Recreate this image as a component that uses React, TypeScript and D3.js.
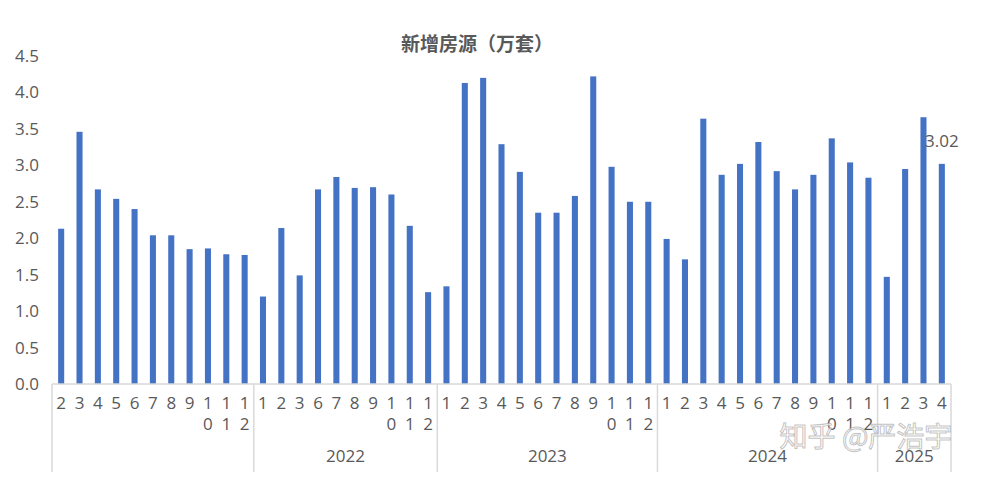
import React from "react";
import * as d3 from "d3";

const years = ["2021", "2022", "2023", "2024", "2025"];
const yearLabels = ["", "2022", "2023", "2024", "2025"];
const months2021 = [2, 3, 4, 5, 6, 7, 8, 9, 10, 11, 12];
const months2022 = [1, 2, 3, 6, 7, 8, 9, 10, 11, 12];
const months2023 = [1, 2, 3, 4, 5, 6, 7, 8, 9, 10, 11, 12];
const months2024 = [1, 2, 3, 4, 5, 6, 7, 8, 9, 10, 11, 12];
const months2025 = [1, 2, 3, 4];

const values2021 = [2.13, 3.46, 2.67, 2.54, 2.4, 2.04, 2.04, 1.85, 1.86, 1.78, 1.77];
const values2022 = [1.2, 2.14, 1.49, 2.67, 2.84, 2.69, 2.7, 2.6, 2.17, 1.26];
const values2023 = [1.34, 4.13, 4.2, 3.29, 2.91, 2.35, 2.35, 2.58, 4.22, 2.98, 2.5, 2.5];
const values2024 = [1.99, 1.71, 3.64, 2.87, 3.02, 3.32, 2.92, 2.67, 2.87, 3.37, 3.04, 2.83];
const values2025 = [1.47, 2.95, 3.66, 3.02];

const yTicks = [0, 0.5, 1, 1.5, 2, 2.5, 3, 3.5, 4, 4.5];
const title = "新增房源（万套）";
const lastLabel = "3.02";
const watermark = "知乎 @严浩宇";

const monthsByYear = [months2021, months2022, months2023, months2024, months2025];
const valuesByYear = [values2021, values2022, values2023, values2024, values2025];

type Item = { key: string; year: string; month: number; value: number };
const data: Item[] = [];
monthsByYear.forEach((ms, yi) =>
  ms.forEach((m, i) =>
    data.push({ key: `${years[yi]}-${m}`, year: years[yi], month: m, value: valuesByYear[yi][i] })
  )
);

const W = 981;
const H = 477;
const left = 52;
const right = 951;
const y0 = 384;
const yTop = 56;

const textColor = "#595959";
const gridColor = "#d9d9d9";
const barColor = "#4472C4";
const font = "'Open Sans', 'Noto Sans CJK SC', sans-serif";
const fs = 17;

export default function App() {
  const x = d3
    .scaleBand<string>()
    .domain(data.map((d) => d.key))
    .range([left, right])
    .paddingInner(0.67)
    .paddingOuter(0.335);
  const step = x.step();
  const y = d3.scaleLinear().domain([0, 4.5]).range([y0, yTop]);

  const bounds: { year: string; label: string; x0: number; x1: number }[] = [];
  let idx = 0;
  monthsByYear.forEach((ms, yi) => {
    const x0 = left + idx * step;
    idx += ms.length;
    const x1 = left + idx * step;
    bounds.push({ year: years[yi], label: yearLabels[yi], x0, x1 });
  });

  const last = data[data.length - 1];

  return (
    <svg
      width={W}
      height={H}
      style={{ position: "fixed", left: 0, top: 0, background: "#fff" }}
      fontFamily={font}
    >
      <rect x={0} y={0} width={W} height={H} fill="#fff" />
      <text
        x={477}
        y={51}
        textAnchor="middle"
        fontSize={19}
        fontWeight="bold"
        fill={textColor}
        fontFamily="'Noto Sans CJK SC', sans-serif"
      >
        {title}
      </text>

      {yTicks.map((t) => (
        <text
          key={t}
          x={39}
          y={y(t)}
          dy="0.35em"
          textAnchor="end"
          fontSize={fs}
          fill={textColor}
        >
          {t.toFixed(1)}
        </text>
      ))}

      {data.map((d) => (
        <rect
          key={d.key}
          x={x(d.key)}
          y={y(d.value)}
          width={x.bandwidth()}
          height={y0 - y(d.value)}
          fill={barColor}
        />
      ))}

      <text
        x={(x(last.key) ?? 0) + x.bandwidth() / 2}
        y={y(last.value) - 17}
        textAnchor="middle"
        fontSize={fs}
        fill={textColor}
      >
        {lastLabel}
      </text>

      <line x1={left} x2={right} y1={y0} y2={y0} stroke={gridColor} strokeWidth={1.5} />
      {bounds.map((b, i) => (
        <line
          key={"s" + i}
          x1={b.x0}
          x2={b.x0}
          y1={y0}
          y2={472}
          stroke={gridColor}
          strokeWidth={1.5}
        />
      ))}
      <line x1={right} x2={right} y1={y0} y2={472} stroke={gridColor} strokeWidth={1.5} />

      {data.map((d) => {
        const cx = (x(d.key) ?? 0) + x.bandwidth() / 2;
        const s = String(d.month);
        return (
          <g key={"m" + d.key}>
            <text x={cx} y={409} textAnchor="middle" fontSize={fs} fill={textColor}>
              {s[0]}
            </text>
            {s.length > 1 && (
              <text x={cx} y={430} textAnchor="middle" fontSize={fs} fill={textColor}>
                {s[1]}
              </text>
            )}
          </g>
        );
      })}

      {bounds.map((b) =>
        b.label ? (
          <text
            key={"y" + b.year}
            x={(b.x0 + b.x1) / 2}
            y={462}
            textAnchor="middle"
            fontSize={fs}
            fill={textColor}
          >
            {b.label}
          </text>
        ) : null
      )}

      <text
        x={866}
        y={447}
        textAnchor="middle"
        fontSize={28}
        fill="#ffffff"
        fillOpacity={0.7}
        stroke="#9a9a9a"
        strokeOpacity={0.6}
        strokeWidth={1}
        fontFamily="'Noto Sans CJK SC', sans-serif"
      >
        {watermark}
      </text>
    </svg>
  );
}
